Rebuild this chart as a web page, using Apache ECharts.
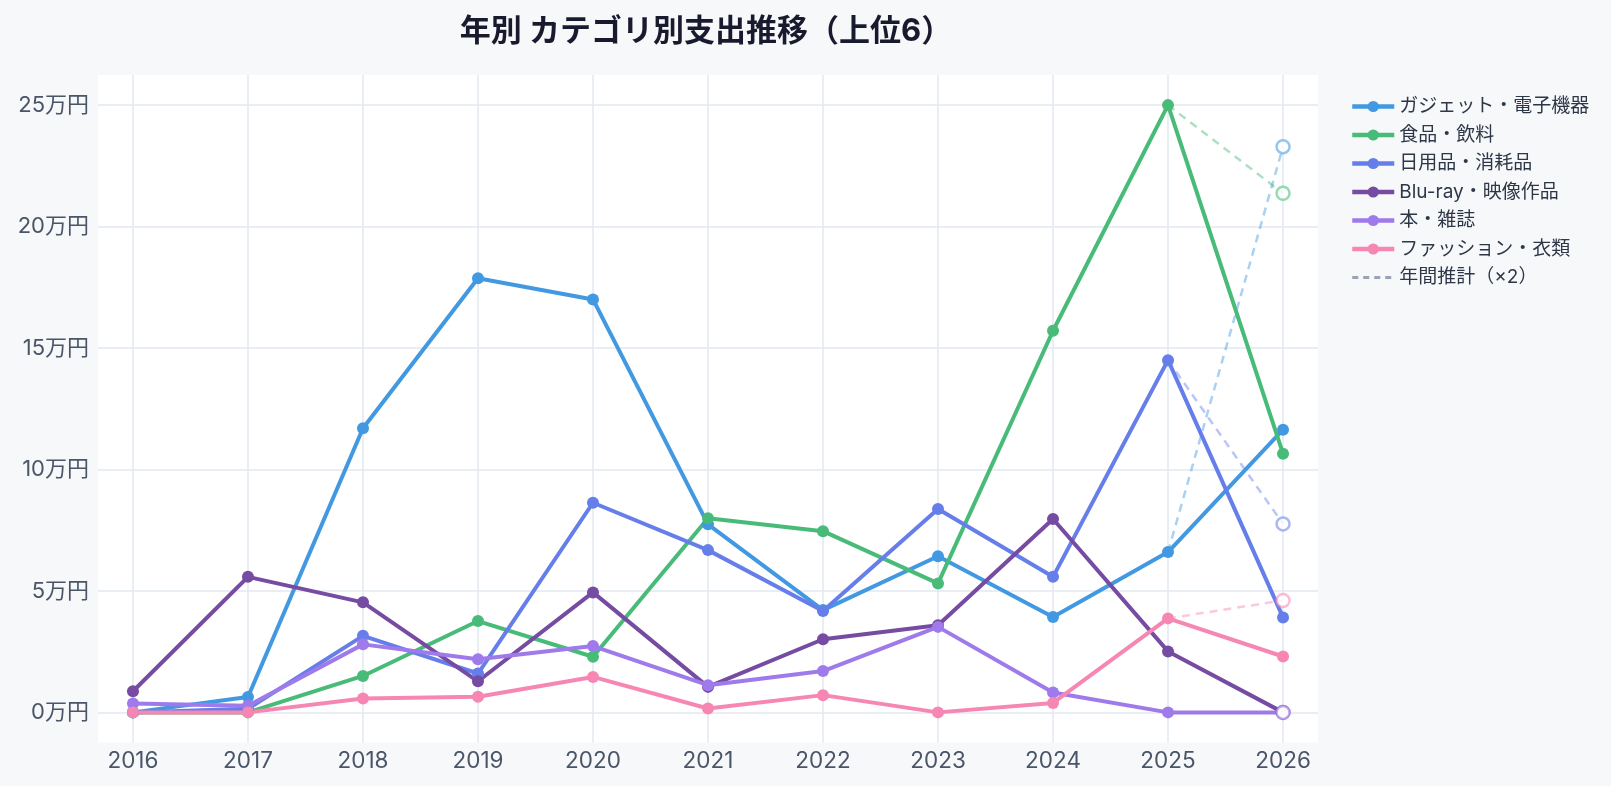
<!DOCTYPE html>
<html><head><meta charset="utf-8">
<script src="https://cdn.jsdelivr.net/npm/echarts@6/dist/echarts.min.js"></script>
<style>html,body{margin:0;padding:0;background:#f7f8fa;}#c{width:1611px;height:786px;}</style>
</head><body><div id="c"></div>
<script>
const years = [2016, 2017, 2018, 2019, 2020, 2021, 2022, 2023, 2024, 2025, 2026];
const yTicks = [0, 50000, 100000, 150000, 200000, 250000];
const names = ['ガジェット・電子機器', '食品・飲料', '日用品・消耗品', 'Blu-ray・映像作品', '本・雑誌', 'ファッション・衣類'];
const colors = ['#4299e1', '#48bb78', '#667eea', '#764ba2', '#9f7aea', '#f687b3'];
const gadget  = [0, 6300, 117000, 178700, 170000, 77400, 42100, 64300, 39300, 66000, 116400];
const food    = [0, 0, 15000, 37600, 22900, 79900, 74600, 53100, 157100, 250000, 106500];
const daily   = [0, 1500, 31500, 16000, 86300, 66800, 41700, 83700, 55800, 145000, 39100];
const bluray  = [8700, 55800, 45300, 12800, 49400, 10500, 30100, 35900, 79600, 25100, 0];
const books   = [3700, 2700, 28000, 21900, 27300, 11200, 17000, 35200, 8200, 0, 0];
const fashion = [0, 0, 5700, 6400, 14600, 1600, 7100, 0, 3900, 38700, 23000];
const projected2026 = [232900, 213700, 77600, 0, 0, 46100];
const projName = '年間推計（×2）';
const allData = [gadget, food, daily, bluray, books, fashion];

function rgba(hex, a) {
  const n = parseInt(hex.slice(1), 16);
  return 'rgba(' + (n >> 16) + ',' + ((n >> 8) & 255) + ',' + (n & 255) + ',' + a + ')';
}
const FONT = "Inter, 'Noto Sans CJK JP', sans-serif";
const GRAY = '#9aa3b2';
const series = [];
series.push({
  name: projName, type: 'line', data: [], symbol: 'none',
  lineStyle: { color: GRAY, width: 3, type: [6, 5] }, itemStyle: { color: GRAY }
});
names.forEach((nm, i) => {
  const d = allData[i];
  series.push({
    name: nm + '（推計線）', type: 'line', z: 1, clip: false, silent: true,
    data: [[years[9], d[9]], [years[10], projected2026[i]]],
    symbol: 'none',
    lineStyle: { color: rgba(colors[i], 0.45), width: 2.5, type: [8, 6] }
  });
});
names.forEach((nm, i) => {
  series.push({
    name: nm, type: 'line', z: 3, clip: false,
    data: years.map((y, k) => [y, allData[i][k]]),
    symbol: 'circle', symbolSize: 12, showSymbol: true,
    lineStyle: { color: colors[i], width: 4 },
    itemStyle: { color: colors[i] }
  });
});
series.push({
  name: '推計点', type: 'scatter', z: 5, silent: true,
  symbol: 'circle', symbolSize: 13,
  data: names.map((nm, i) => ({
    value: [years[10], projected2026[i]],
    itemStyle: { color: '#ffffff', borderColor: rgba(colors[i], 0.7), borderWidth: 2.5 }
  }))
});

const legendData = names.map(n => ({ name: n, lineStyle: { width: 4.5 } }))
  .concat([{ name: projName, lineStyle: { width: 3, type: [6, 5], color: GRAY }, itemStyle: { opacity: 0 } }]);

const chart = echarts.init(document.getElementById('c'), null, { renderer: 'canvas' });
chart.setOption({
  animation: false,
  backgroundColor: '#f7f8fa',
  title: {
    text: '年別 カテゴリ別支出推移（上位6）', left: 701, top: 11, textAlign: 'center',
    textStyle: { fontSize: 31, fontWeight: 'bold', color: '#1a1a2e', fontFamily: FONT }
  },
  legend: {
    data: legendData, orient: 'vertical', left: 1345, top: 92,
    itemWidth: 42, itemHeight: 14, itemGap: 9.5,
    textStyle: { fontSize: 19, color: '#2d3748', fontFamily: FONT }
  },
  grid: { left: 98, top: 75, width: 1220, height: 667.5, show: true, backgroundColor: '#ffffff', borderWidth: 0, containLabel: false },
  xAxis: {
    type: 'value', min: 2015.696, max: 2026.304,
    axisLine: { show: false },
    axisTick: { show: false, customValues: years },
    axisLabel: { customValues: years, color: '#4a5568', fontSize: 22.5, fontFamily: FONT, margin: 7, formatter: v => String(v) },
    splitLine: { show: true, lineStyle: { color: '#e2e8f0', width: 1.5 } }
  },
  yAxis: {
    type: 'value', min: -12400, max: 262400,
    axisLine: { show: false },
    axisTick: { show: false, customValues: yTicks },
    axisLabel: { customValues: yTicks, color: '#4a5568', fontSize: 22, fontFamily: FONT, margin: 9, formatter: v => (v / 10000) + '万円' },
    splitLine: { show: true, lineStyle: { color: '#e2e8f0', width: 1.5 } }
  },
  series: series
});
</script></body></html>
